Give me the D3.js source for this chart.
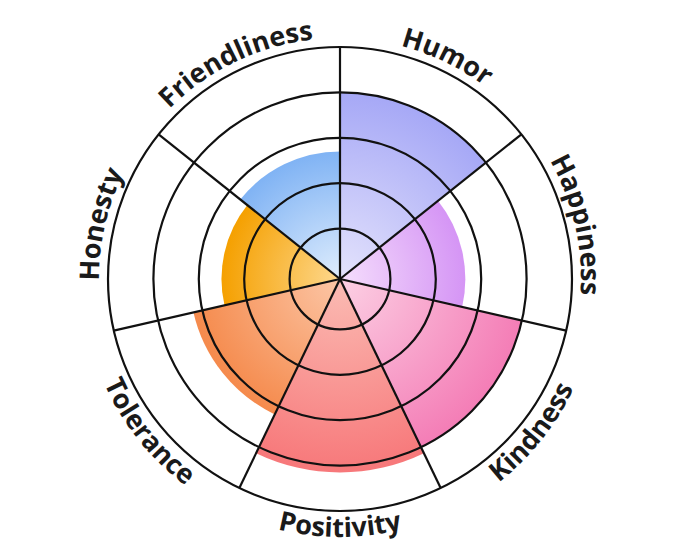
<!DOCTYPE html>
<html>
<head>
<meta charset="utf-8">
<script src="https://cdn.jsdelivr.net/npm/d3@7"></script>
<style>
  body { margin: 0; background: #fff; }
  svg { display: block; }
  .label { font-family: "Open Sans", sans-serif; font-weight: 700; font-size: 27px; fill: #1a1a1a; }
</style>
</head>
<body>
<div id="chart"></div>
<script>
// categories clockwise from 12 o'clock
const categories = ["Humor", "Happiness", "Kindness", "Positivity", "Tolerance", "Honesty", "Friendliness"];
const values = [4, 2.65, 4, 4.15, 3.2, 2.5, 2.7];
const ringTicks = [1, 2, 3, 4, 5];
const innerColors = ["#e4e3fc", "#f5defc", "#fcd0e4", "#fbbcb4", "#fcc6a6", "#fdd88e", "#dfedfd"];
const outerColors = ["#a6a8f6", "#d595f5", "#f47db6", "#f7787a", "#f58a4c", "#f5a000", "#80b3f4"];
const bottomLabels = ["Kindness", "Positivity", "Tolerance"];

const width = 680, height = 557;
const cx = 340, cy = 279;

let svg = d3.select("#chart").append("svg")
  .attr("width", width)
  .attr("height", height);

let defs = svg.append("defs");
let g = svg.append("g").attr("transform", "translate(" + cx + "," + cy + ")");

let rScale = d3.scaleLinear().domain([0, 5]).range([5, 232]);
let n = categories.length;
let step = 2 * Math.PI / n;

// gradients
categories.forEach(function(c, i) {
  let grad = defs.append("radialGradient")
    .attr("id", "grad" + i)
    .attr("gradientUnits", "userSpaceOnUse")
    .attr("cx", 0).attr("cy", 0)
    .attr("r", rScale(values[i]));
  grad.append("stop").attr("offset", "0%").attr("stop-color", innerColors[i]);
  grad.append("stop").attr("offset", "100%").attr("stop-color", outerColors[i]);
});

let arc = d3.arc()
  .innerRadius(0)
  .outerRadius(function(d) { return rScale(d.value); })
  .startAngle(function(d) { return d.i * step; })
  .endAngle(function(d) { return (d.i + 1) * step; });

let slices = categories.map(function(c, i) { return {name: c, value: values[i], i: i}; });

g.selectAll(".slice")
  .data(slices)
  .enter().append("path")
  .attr("class", "slice")
  .attr("d", arc)
  .attr("fill", function(d) { return "url(#grad" + d.i + ")"; });

// rings
g.selectAll(".ring")
  .data(ringTicks)
  .enter().append("circle")
  .attr("class", "ring")
  .attr("r", function(d) { return rScale(d); })
  .attr("fill", "none")
  .attr("stroke", "#111")
  .attr("stroke-width", 2.2);

// spokes
g.selectAll(".spoke")
  .data(slices)
  .enter().append("line")
  .attr("class", "spoke")
  .attr("x1", 0).attr("y1", 0)
  .attr("x2", function(d) { return rScale(5) * Math.sin(d.i * step); })
  .attr("y2", function(d) { return -rScale(5) * Math.cos(d.i * step); })
  .attr("stroke", "#111")
  .attr("stroke-width", 2.2);

// curved labels
function pt(r, a) { return [r * Math.sin(a), -r * Math.cos(a)]; }

slices.forEach(function(d) {
  let a0 = d.i * step, a1 = (d.i + 1) * step;
  let bottom = bottomLabels.indexOf(d.name) >= 0;
  let r = bottom ? 258 : 241;
  let p;
  if (bottom) {
    let s = pt(r, a1), e = pt(r, a0);
    p = "M" + s[0] + "," + s[1] + " A" + r + "," + r + " 0 0 0 " + e[0] + "," + e[1];
  } else {
    let s = pt(r, a0), e = pt(r, a1);
    p = "M" + s[0] + "," + s[1] + " A" + r + "," + r + " 0 0 1 " + e[0] + "," + e[1];
  }
  defs.append("path").attr("id", "lp" + d.i).attr("d", p);
  g.append("text")
    .attr("class", "label")
    .append("textPath")
    .attr("href", "#lp" + d.i)
    .attr("startOffset", "50%")
    .attr("text-anchor", "middle")
    .text(d.name);
});
</script>
</body>
</html>
